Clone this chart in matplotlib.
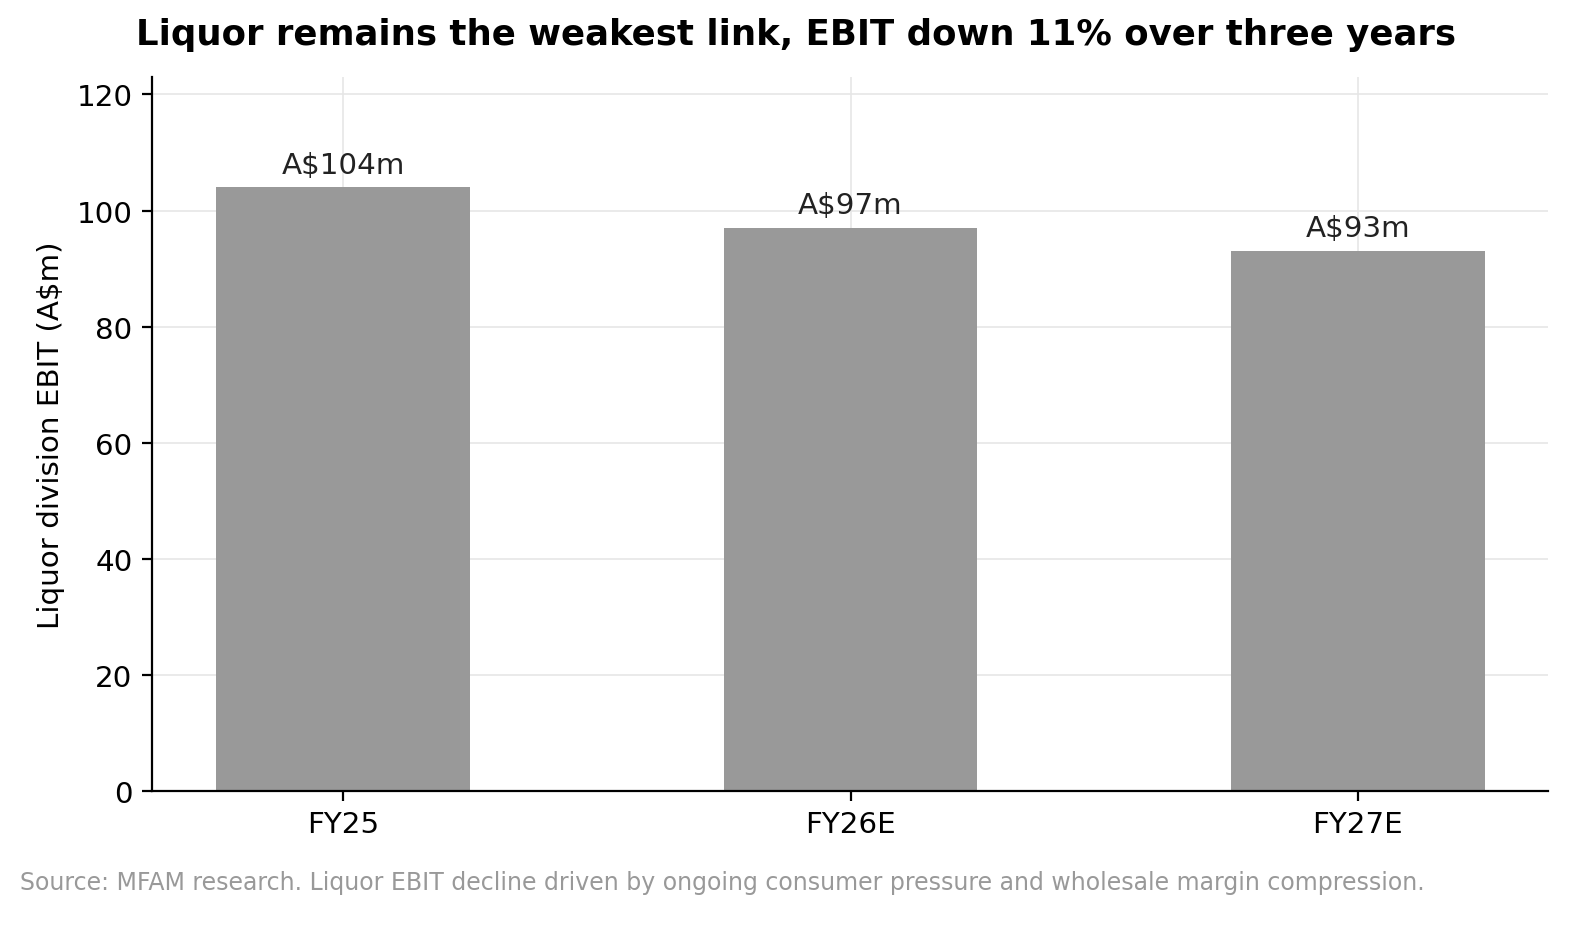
import matplotlib
matplotlib.use("Agg")
import matplotlib.pyplot as plt

categories = ["FY25", "FY26E", "FY27E"]
values = [104, 97, 93]
labels = ["A$104m", "A$97m", "A$93m"]

fig = plt.figure(figsize=(7.955, 4.645), dpi=200)
ax = fig.add_axes([152/1591, 1-792/929, (1548-152)/1591, (792-78)/929])
x = range(len(categories))
ax.bar(x, values, width=0.5, color="#999999", zorder=2)
for xi, v, l in zip(x, values, labels):
    ax.text(xi, v + 1.5, l, ha="center", va="bottom", fontsize=10.6, color="#222222")
ax.set_xticks(list(x))
ax.set_xticklabels(categories)
ax.set_xlim(-0.377, 2.375)
ax.set_ylim(0, 123)
ax.set_yticks(range(0, 121, 20))
ax.tick_params(labelsize=10.6)
ax.set_ylabel("Liquor division EBIT (A$m)", fontsize=10.6)
ax.grid(True, color="#e6e6e6", linewidth=0.6, zorder=0)
ax.set_axisbelow(True)
for s in ["top", "right"]:
    ax.spines[s].set_visible(False)
ax.spines["left"].set_linewidth(0.8)
ax.spines["bottom"].set_linewidth(0.8)
fig.text(0.5, 1-35/929, "Liquor remains the weakest link, EBIT down 11% over three years",
         ha="center", va="center", fontsize=12.8, fontweight="bold")
fig.text(20/1591, 1-883/929, "Source: MFAM research. Liquor EBIT decline driven by ongoing consumer pressure and wholesale margin compression.",
         ha="left", va="center", fontsize=8.5, color="#999999")
fig.savefig("out.png", dpi=200)
